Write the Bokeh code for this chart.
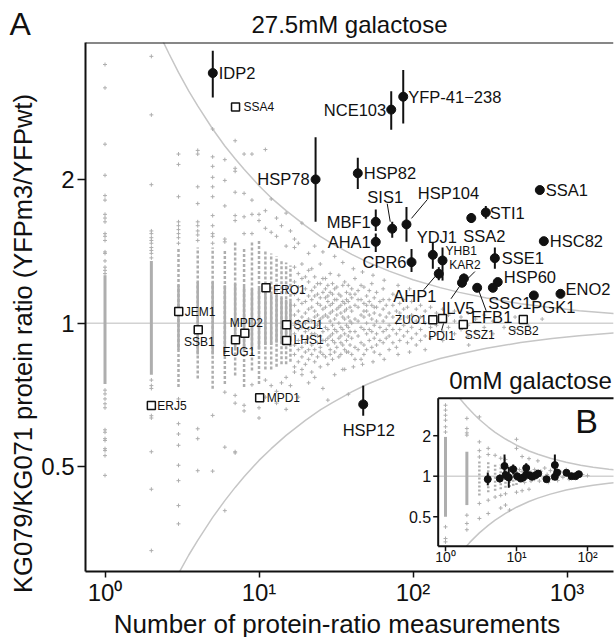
import math
from bokeh.plotting import figure
from bokeh.models import (Range1d, LogScale, FixedTicker, CustomJSTickFormatter,
                          Span, ColumnDataSource)
from bokeh.core.properties import value
from bokeh.embed import file_html
from bokeh.resources import INLINE

# ======================= DATA =======================
x_ticks = [1, 10, 100, 1000]
x_tick_labels = ["10⁰", "10¹", "10²", "10³"]
y_ticks = [0.5, 1, 2]
y_tick_labels = ["0.5", "1", "2"]
inset_x_ticks = [1, 10, 100]
inset_x_tick_labels = ["10⁰", "10¹", "10²"]
inset_y_ticks = [0.5, 1, 2]
inset_y_tick_labels = ["0.5", "1", "2"]
x_title = "Number of protein-ratio measurements"
y_title = "KG079/KG071 protein ratio (YFPm3/YFPwt)"

# funnel curves, main panel
funnel_n = [2.3, 2.6, 3, 3.5, 4, 5, 6, 7, 8, 10, 12, 15, 20, 25, 30, 40, 50, 70, 100,
            150, 200, 300, 500, 800, 1200, 2000, 2100]
funnel_hi = [3.98, 3.67, 3.35, 3.06, 2.85, 2.55, 2.35, 2.21, 2.10, 1.94, 1.83, 1.72, 1.60,
             1.52, 1.466, 1.393, 1.345, 1.285, 1.233, 1.187, 1.160, 1.129, 1.098, 1.077,
             1.062, 1.048, 1.047]
funnel_lo = [0.251, 0.272, 0.299, 0.327, 0.351, 0.392, 0.425, 0.453, 0.477, 0.516, 0.546,
             0.582, 0.626, 0.658, 0.682, 0.718, 0.744, 0.778, 0.811, 0.843, 0.862, 0.886,
             0.911, 0.929, 0.941, 0.954, 0.955]

# highlighted proteins (filled circles, error bars)
hl_names = ["IDP2", "HSP78", "NCE103", "YFP-41−238", "HSP82", "MBF1", "AHA1", "SIS1",
            "HSP104", "CPR6", "YDJ1", "YHB1", "AHP1", "KAR2", "ILV5", "EFB1", "SSA2",
            "STI1", "SSA1", "HSC82", "SSE1", "HSP60", "SSC1", "PGK1", "ENO2", "HSP12"]
hl_n = [5.01, 23.3, 72.2, 86.4, 43.8, 57.3, 57.3, 73.3, 90.7, 97.8, 134.5, 155.5, 147,
        214, 208, 261, 239, 297, 666, 707, 340, 355, 330, 609, 907, 47.5]
hl_ratio = [3.34, 2.00, 2.80, 2.98, 2.06, 1.63, 1.48, 1.577, 1.61, 1.342, 1.39, 1.353,
            1.269, 1.24, 1.215, 1.186, 1.66, 1.705, 1.90, 1.485, 1.368, 1.219, 1.186,
            1.143, 1.152, 0.676]
hl_lo = [2.97, 1.63, 2.54, 2.62, 1.91, 1.56, 1.41, 1.51, 1.48, 1.28, 1.30, 1.228, 1.23,
         1.20, 1.19, 1.17, 1.62, 1.655, 1.88, 1.47, 1.30, 1.20, 1.17, 1.13, 1.14, 0.64]
hl_hi = [3.72, 2.45, 3.06, 3.39, 2.22, 1.73, 1.54, 1.63, 1.75, 1.43, 1.477, 1.44, 1.31,
         1.27, 1.24, 1.20, 1.70, 1.76, 1.92, 1.50, 1.44, 1.24, 1.20, 1.155, 1.165, 0.74]

# other named proteins (open squares)
sq_names = ["SSA4", "ERO1", "JEM1", "SSB1", "MPD2", "EUG1", "SCJ1", "LHS1", "MPD1", "ERJ5",
            "ZUO1", "PDI1", "SSZ1", "SSB2"]
sq_n = [7.04, 11.1, 3.01, 4.03, 8.09, 7.04, 15.1, 15.1, 10.1, 2.0, 134.5, 155.5, 212, 520]
sq_ratio = [2.835, 1.186, 1.058, 0.969, 0.953, 0.923, 0.992, 0.920, 0.698, 0.672, 1.017,
            1.023, 0.994, 1.018]

# all other proteins (grey crosses): dense part of the low-count columns ...
col_n = [1, 2, 3, 4, 5, 6, 7, 8, 9, 10, 11, 12, 13, 14, 15, 16]
col_lo = [0.746, 0.78, 0.735, 0.766, 0.729, 0.746, 0.777, 0.735, 0.796, 0.746, 0.80, 0.80,
          0.81, 0.82, 0.82, 0.83]
col_hi = [1.26, 1.35, 1.44, 1.44, 1.44, 1.42, 1.49, 1.44, 1.49, 1.49, 1.42, 1.40, 1.38,
          1.36, 1.34, 1.32]
col_core_lo = [0.746, 0.78, 0.88, 0.86, 0.86, 0.87, 0.88, 0.87, 0.89, 0.88, 0.90, 0.90,
               0.91, 0.91, 0.92, 0.92]
col_core_hi = [1.26, 1.35, 1.20, 1.22, 1.22, 1.20, 1.21, 1.19, 1.18, 1.18, 1.16, 1.15,
               1.14, 1.13, 1.12, 1.11]
# ... single points of the columns ...
sparse = {
    1: [3.48, 3.11, 2.37, 2.04, 1.85, 1.81, 1.69, 1.66, 1.63, 1.54, 1.52, 1.49, 1.41, 1.40,
        1.35, 1.31, 1.29, 1.27, 0.724, 0.711, 0.694, 0.678, 0.665, 0.598, 0.591, 0.573,
        0.568, 0.546, 0.541, 0.528, 0.48],
    2: [3.62, 2.73, 1.95, 1.56, 1.54, 1.51, 1.49, 1.47, 1.44, 1.42, 1.40, 1.37, 0.76, 0.74,
        0.73, 0.64, 0.633, 0.538, 0.449, 0.334],
    3: [2.26, 2.15, 1.84, 1.63, 1.60, 1.57, 1.54, 1.51, 1.47, 0.694, 0.616, 0.586, 0.555,
        0.504, 0.468, 0.415, 0.38],
    4: [2.30, 2.26, 1.93, 1.78, 1.63, 1.60, 1.56, 1.53, 1.49, 0.601, 0.573, 0.491],
    5: [2.55, 2.23, 2.13, 2.02, 1.93, 1.84, 1.68, 1.60, 1.54, 1.52, 1.47, 0.641, 0.49],
    6: [2.20, 1.99, 1.76, 1.50, 1.48, 0.717, 0.55, 0.405],
    7: [2.41, 2.11, 2.08, 1.88, 1.68, 1.64, 0.706, 0.68, 0.538, 0.535],
    8: [2.26, 1.87, 1.67, 1.54, 0.673, 0.655],
    9: [2.26, 1.81, 1.69, 1.54, 0.743],
    10: [1.69, 1.64, 0.694, 0.665, 0.633],
    11: [2.31, 1.72, 1.58, 0.76, 0.70],
    12: [1.82, 1.55, 0.74],
    13: [1.66, 1.52, 0.72, 0.68],
    14: [1.60, 0.75],
    15: [1.70, 1.45, 0.77, 0.66],
    16: [1.56, 0.74],
    17: [1.50, 1.44, 0.79],
    18: [1.47, 0.70],
    19: [1.62, 0.78],
    21: [1.40, 0.75],
    23: [1.45, 0.77],
    26: [1.41, 0.73],
    28: [0.69],
    31: [1.38, 0.78],
    35: [1.34, 0.80],
    38: [0.71],
    41: [1.30, 0.81],
    47: [1.28, 0.82],
    55: [1.26, 0.83],
    65: [1.23, 0.84],
    80: [1.20, 0.86],
    95: [1.18, 0.87],
    120: [0.88],
    230: [0.90],
}
# ... and the cloud of proteins with many measurements
cloud = {
    17: [1.31, 1.22, 1.15, 1.09, 1.04, 0.99, 0.95, 0.90, 0.86, 0.81],
    18: [1.27, 1.19, 1.12, 1.06, 1.01, 0.97, 0.92, 0.88, 0.83],
    19: [1.33, 1.24, 1.16, 1.10, 1.03, 0.98, 0.94, 0.89, 0.85, 0.80],
    20: [1.25, 1.18, 1.11, 1.05, 1.00, 0.96, 0.91, 0.87, 0.82],
    21: [1.29, 1.22, 1.14, 1.07, 1.02, 0.97, 0.93, 0.88, 0.84],
    22: [1.30, 1.17, 1.12, 1.08, 1.01, 0.95, 0.90, 0.86, 0.79],
    23: [1.25, 1.19, 1.14, 1.06, 1.03, 0.98, 0.95, 0.88, 0.83],
    24: [1.21, 1.15, 1.10, 1.04, 0.99, 0.94, 0.91, 0.85],
    25: [1.33, 1.21, 1.13, 1.09, 1.02, 1.00, 0.94, 0.89, 0.87, 0.81],
    26: [1.24, 1.16, 1.07, 1.03, 0.96, 0.92, 0.86],
    27: [1.24, 1.18, 1.13, 1.08, 1.04, 0.98, 0.92, 0.85],
    28: [1.20, 1.14, 1.11, 1.03, 0.97, 0.93, 0.90, 0.82],
    29: [1.27, 1.16, 1.09, 1.05, 1.01, 0.94, 0.88, 0.86],
    30: [1.21, 1.15, 1.10, 1.06, 0.99, 0.95, 0.92, 0.84],
    31: [1.18, 1.12, 1.02, 0.97, 0.91, 0.87],
    32: [1.19, 1.12, 1.07, 1.04, 0.96, 0.89],
    33: [1.26, 1.15, 1.08, 1.00, 0.93, 0.85],
    34: [1.14, 1.09, 1.05, 0.98, 0.94, 0.91, 0.86],
    35: [1.20, 1.11, 1.03, 0.97, 0.90],
    36: [1.22, 1.10, 1.06, 1.02, 0.95, 0.88, 0.80],
    37: [1.16, 1.12, 1.07, 0.99, 0.92, 0.87],
    38: [1.20, 1.11, 1.03, 0.98, 0.94, 0.87],
    39: [1.15, 1.08, 1.01, 0.96, 0.90],
    40: [1.18, 1.13, 1.06, 1.00, 0.93, 0.86],
    42: [1.24, 1.15, 1.09, 1.02, 0.96, 0.89, 0.84],
    44: [1.17, 1.12, 1.08, 1.01, 0.94, 0.88],
    46: [1.20, 1.12, 1.04, 0.98, 0.91, 0.84],
    48: [1.19, 1.10, 1.06, 1.03, 0.97, 0.90, 0.86],
    50: [1.14, 1.09, 1.06, 1.00, 0.95, 0.88],
    52: [1.17, 1.11, 1.04, 0.97, 0.92],
    54: [1.21, 1.09, 1.02, 0.96, 0.89],
    56: [1.13, 1.08, 1.05, 0.99, 0.93, 0.87],
    58: [1.16, 1.08, 1.01, 0.95, 0.90],
    61: [1.11, 1.04, 0.98, 0.92, 0.86],
    64: [1.18, 1.12, 1.07, 1.01, 0.96, 0.91],
    67: [1.09, 1.03, 0.97, 0.93],
    70: [1.12, 1.05, 0.99, 0.94, 0.88],
    74: [1.15, 1.09, 1.03, 0.97, 0.91],
    78: [1.14, 1.06, 1.00, 0.95, 0.89],
    82: [1.10, 1.05, 1.02, 0.97, 0.92],
    87: [1.12, 1.07, 0.99, 0.94],
    92: [1.08, 1.03, 0.96, 0.91],
    98: [1.11, 1.04, 0.98, 0.93],
    105: [1.07, 1.01, 0.95, 0.90],
    112: [1.09, 1.03, 0.97, 0.92],
    120: [1.06, 1.00, 0.94],
    130: [1.08, 1.02, 0.98, 0.93],
    142: [1.05, 0.99, 0.95],
    156: [1.07, 1.01, 0.96, 0.92],
    170: [1.04, 0.98],
    186: [1.06, 1.01, 0.95],
    205: [1.03, 0.97],
    228: [1.05, 0.99, 0.94],
    255: [1.02, 0.96],
    290: [1.04, 0.98],
    330: [1.01, 0.95],
    390: [0.98],
    460: [1.03, 0.97],
    560: [0.99],
    690: [1.02],
}

# ---- inset B: 0mM galactose ----
in_up_n = [1.57, 1.8, 2, 2.5, 3, 4, 5, 7, 10, 15, 20, 30, 50, 80, 120, 200, 300]
in_up_r = [3.82, 3.50, 3.28, 2.90, 2.64, 2.32, 2.12, 1.89, 1.70, 1.54, 1.456, 1.359, 1.268,
           1.207, 1.166, 1.126, 1.102]
in_lo_n = [1.95, 2.2, 2.5, 3, 4, 5, 7, 10, 15, 20, 30, 50, 80, 120, 200, 300]
in_lo_r = [0.30, 0.322, 0.345, 0.379, 0.431, 0.472, 0.529, 0.588, 0.649, 0.687, 0.736,
           0.789, 0.829, 0.858, 0.888, 0.907]
in_col_n = [1, 2, 3, 4, 5, 6, 7, 8, 9, 10]
in_col_lo = [0.50, 0.61, 0.72, 0.76, 0.78, 0.80, 0.82, 0.83, 0.85, 0.86]
in_col_hi = [1.96, 1.52, 1.32, 1.28, 1.25, 1.22, 1.20, 1.18, 1.16, 1.15]
in_sparse = {
    1: [3.37, 3.10, 2.84, 2.61, 2.33, 2.13, 0.42, 0.344, 0.325],
    2: [2.69, 2.26, 2.10, 2.02, 0.513, 0.445, 0.40],
    3: [2.76, 1.80, 1.55, 1.39, 0.627, 0.485],
    4: [1.61, 1.45, 0.663, 0.528],
    5: [1.43, 0.70],
    6: [1.36, 0.72, 0.58],
    7: [1.33, 0.74, 0.61],
    8: [0.56],
    10: [1.88, 1.61, 0.76],
    11: [1.12, 0.93],
    12: [1.40, 1.08, 0.95, 0.78],
    13: [1.05, 0.90],
    14: [1.10, 0.97],
    15: [1.35, 0.80],
    16: [1.07, 0.92],
    17: [1.02],
    18: [1.12, 0.95],
    20: [1.30, 1.05],
    21: [0.92],
    22: [1.09],
    24: [0.97],
    25: [1.15],
    27: [1.03],
    28: [0.90],
    30: [1.10],
    32: [0.96],
    35: [1.06],
    38: [0.93],
    42: [1.08],
    45: [0.98],
    50: [1.12],
    55: [0.95],
    60: [1.04],
    70: [0.97],
    85: [1.03],
    100: [1.01],
}
in_hl_n = [3.94, 5.82, 6.78, 7.0, 7.79, 8.99, 10.2, 11.5, 12.4, 13.7, 13.7, 15.2, 16.6,
           18.5, 20.2, 26.5, 34.7, 34.7, 37.4, 50.6, 59.5, 67.7, 75.4]
in_hl_ratio = [0.95, 0.96, 1.19, 1.02, 0.978, 1.127, 1.0, 0.96, 0.978, 1.15, 1.03, 1.017,
               0.99, 1.017, 1.047, 0.95, 1.21, 0.99, 1.065, 1.06, 1.0, 1.0, 1.035]
in_hl_lo = [0.855, 0.90, 0.97, 0.94, 0.82, 1.03, 0.97, 0.93, 0.93, 1.06, 0.98, 0.97, 0.95,
            0.98, 1.01, 0.92, 1.03, 0.95, 1.03, 1.04, 0.98, 0.98, 1.02]
in_hl_hi = [1.065, 1.03, 1.45, 1.08, 1.17, 1.22, 1.03, 0.99, 1.03, 1.25, 1.08, 1.06, 1.03,
            1.05, 1.08, 0.98, 1.45, 1.03, 1.10, 1.08, 1.02, 1.02, 1.05]

# ======================= LAYOUT / STYLE =======================
FONT = "Liberation Sans"
GRAY = "#aeaeae"
CURVE = "#c6c6c6"
INK = "#111111"
X_START, X_END = 0.747, 2004
Y_START, Y_END = 0.302, 3.87
FIG_W, FIG_H = 614, 637
B_LEFT, B_RIGHT, B_TOP, B_BOTTOM = 85, 1, 42, 66
FRAME_W = FIG_W - B_LEFT - B_RIGHT
FRAME_H = FIG_H - B_TOP - B_BOTTOM
PX_DEC_X = FRAME_W / (math.log10(X_END) - math.log10(X_START))
PX_DEC_Y = FRAME_H / (math.log10(Y_END) - math.log10(Y_START))

# label offsets (px): highlighted proteins
hl_dx = [6, -6, -5, 5, 6, -5, -5, -7, 42, -5, 4, 3, -24, 1, -4, 14.5, 13, 4, 6, 6,
         7, 6, 17, 19.5, 5, 5.6]
hl_dy = [0, 0, 0, 0, 0, 0, 0, -32, -31, 0, -18, -9, 22, -14, 25, 29, 18, 0, 0, 0,
         0, -5, 15, 12, -5, 26]
hl_align = ["left", "right", "right", "left", "left", "right", "right", "center", "center",
            "right", "center", "left", "center", "center", "center", "center", "center",
            "left", "left", "left", "left", "left", "center", "center", "left", "center"]
hl_size = ["12px" if nm in ("YHB1", "KAR2") else "16.5px" for nm in hl_names]
sq_dx = [8, 7, 6, 1, 1.5, 3.3, 7, 7, 7, 6, -6, -1, 16.5, 0]
sq_dy = [0, 2, 1, 12.4, -10, 12.4, 0, 0, 0, 0, 0, 18, 11, 11.7]
sq_align = ["left", "left", "left", "center", "center", "center", "left", "left", "left",
            "left", "right", "center", "center", "center"]
# leader lines: (dx0, dy0, dx1, dy1) px relative to the point
hl_leaders = {"SIS1": (-5, -25, -2, -7), "HSP104": (21, -25, 5, -6),
              "KAR2": (11, -7, 4, 0), "ILV5": (-11, 16, -2, 3),
              "AHP1": (-15, 16, -3, 2), "EFB1": (9, 23, 2, 4)}
sq_leaders = {"PDI1": (1, 5, -1, 12)}

# inset geometry (px inside the main frame)
IN_X1_PX, IN_DEC_X = 445 - B_LEFT, 71       # where n=1 sits, px per decade
IN_Y1_PX, IN_DEC_Y = 475.7 - B_TOP, 134.5   # where ratio=1 sits, px per decade
IN_LEFT, IN_RIGHT, IN_BOTTOM, IN_TOP = 0.789, 1e4, 0.302, 3.80

# ======================= FIGURE =======================
p = figure(width=FIG_W, height=FIG_H, x_axis_type="log", y_axis_type="log",
           x_range=Range1d(X_START, X_END), y_range=Range1d(Y_START, Y_END),
           output_backend="svg", toolbar_location=None,
           min_border_left=B_LEFT, min_border_right=B_RIGHT,
           min_border_top=B_TOP, min_border_bottom=B_BOTTOM,
           title="27.5mM galactose")
p.outline_line_color = None
p.grid.visible = False
p.background_fill_color = "white"
p.border_fill_color = "white"
p.title.align = "center"
p.title.text_font = FONT
p.title.text_font_size = "24px"
p.title.text_font_style = "normal"
p.title.text_color = INK
p.title.standoff = 9

fmt_code = """
const i = vals.findIndex(v => Math.abs(v - tick) / v < 1e-6);
return i >= 0 ? labs[i] : "";
"""
for ax, ticks, labs, tout, lstand in ((p.xaxis[0], x_ticks, x_tick_labels, 6, 1),
                                      (p.yaxis[0], y_ticks, y_tick_labels, 8, 3)):
    ax.ticker = FixedTicker(ticks=ticks)
    ax.formatter = CustomJSTickFormatter(args=dict(vals=ticks, labs=labs), code=fmt_code)
    ax.axis_line_width = 2
    ax.axis_line_color = INK
    ax.major_tick_line_width = 1.5
    ax.major_tick_line_color = INK
    ax.major_tick_in = 0
    ax.major_tick_out = tout
    ax.minor_tick_line_color = None
    ax.major_label_text_font = FONT
    ax.major_label_text_font_size = "24px"
    ax.major_label_text_color = INK
    ax.major_label_standoff = lstand

# top frame line and reference line at ratio 1
p.add_layout(Span(location=Y_END, dimension="width", line_color=INK, line_width=2))
p.add_layout(Span(location=1, dimension="width", line_color="#d2d2d2", line_width=1.5,
                  level="underlay"))

# funnel
p.line(funnel_n, funnel_hi, line_color=CURVE, line_width=1.5)
p.line(funnel_n, funnel_lo, line_color=CURVE, line_width=1.5)

# grey population
dashed = [i for i, n in enumerate(col_n) if n >= 3]
p.segment(x0=[col_n[i] for i in dashed], x1=[col_n[i] for i in dashed],
          y0=[col_lo[i] for i in dashed], y1=[col_hi[i] for i in dashed],
          line_color=GRAY, line_width=2.5, line_dash="3 2")
p.segment(x0=col_n, x1=col_n, y0=col_core_lo, y1=col_core_hi,
          line_color=GRAY, line_width=[3 if n < 3 else 2.5 for n in col_n])
sp_n = [n for n, rs in sparse.items() for _ in rs]
sp_r = [r for rs in sparse.values() for r in rs]
cl_n = [n for n, rs in cloud.items() for _ in rs]
cl_r = [r for rs in cloud.values() for r in rs]
p.scatter(sp_n + cl_n, sp_r + cl_r, marker="cross", size=4, line_color=GRAY, line_width=1)

# named proteins
p.scatter(sq_n, sq_ratio, marker="square", size=8, fill_color="white",
          line_color=INK, line_width=1.5)
p.segment(x0=hl_n, x1=hl_n, y0=hl_lo, y1=hl_hi, line_color=INK, line_width=2)
p.scatter(hl_n, hl_ratio, marker="circle", size=9, fill_color=INK, line_color=INK)


def shift(n, r, dx, dy):
    return n * 10 ** (dx / PX_DEC_X), r * 10 ** (-dy / PX_DEC_Y)


def leaders(names, ns, rs, table):
    x0, y0, x1, y1 = [], [], [], []
    for nm, (a, b, c, d) in table.items():
        i = names.index(nm)
        u, v = shift(ns[i], rs[i], a, b)
        w, z = shift(ns[i], rs[i], c, d)
        x0.append(u); y0.append(v); x1.append(w); y1.append(z)
    p.segment(x0=x0, y0=y0, x1=x1, y1=y1, line_color=INK, line_width=1)


leaders(hl_names, hl_n, hl_ratio, hl_leaders)
leaders(sq_names, sq_n, sq_ratio, sq_leaders)


def draw_labels(names, ns, rs, dxs, dys, aligns, sizes, **kw):
    groups = {}
    for i in range(len(names)):
        groups.setdefault((aligns[i], sizes[i]), []).append(i)
    for (al, sz), idx in groups.items():
        src = ColumnDataSource(dict(x=[ns[i] for i in idx], y=[rs[i] for i in idx],
                                    t=[names[i] for i in idx], dx=[dxs[i] for i in idx],
                                    dy=[dys[i] for i in idx]))
        p.text(x="x", y="y", text="t", x_offset="dx", y_offset="dy", source=src,
               text_align=al, text_baseline="middle", text_font=value(FONT),
               text_font_size=sz, text_color=INK, **kw)


draw_labels(hl_names, hl_n, hl_ratio, hl_dx, hl_dy, hl_align, hl_size)
draw_labels(sq_names, sq_n, sq_ratio, sq_dx, sq_dy, sq_align, ["12px"] * len(sq_names))

# texts outside the frame (overlay level is not clipped to the frame); offsets are
# measured from the frame corners to the centre of each text
OUT = dict(text_font=value(FONT), text_color=INK, level="overlay",
           text_baseline="middle")
p.text(x=[X_START], y=[Y_END], text=["A"], x_offset=-(B_LEFT - 9), y_offset=-18.5,
       text_align="left", text_font_size="32px", **OUT)
p.text(x=[X_START], y=[Y_START], text=[x_title], x_offset=336.5 - B_LEFT, y_offset=52,
       text_align="center", text_font_size="26px", **OUT)
p.text(x=[X_START], y=[Y_END], text=[y_title], x_offset=22 - B_LEFT, y_offset=343 - B_TOP,
       angle=math.pi / 2, text_align="center", text_font_size="25.5px", **OUT)

# ======================= INSET B =======================
p.extra_x_ranges = {"inset": Range1d(10 ** (-IN_X1_PX / IN_DEC_X),
                                     10 ** ((FRAME_W - IN_X1_PX) / IN_DEC_X))}
p.extra_y_ranges = {"inset": Range1d(10 ** (-(FRAME_H - IN_Y1_PX) / IN_DEC_Y),
                                     10 ** (IN_Y1_PX / IN_DEC_Y))}
p.extra_x_scales = {"inset": LogScale()}
p.extra_y_scales = {"inset": LogScale()}
R = dict(x_range_name="inset", y_range_name="inset")

p.quad(left=[IN_LEFT], right=[IN_RIGHT], bottom=[IN_BOTTOM], top=[IN_TOP],
       fill_color="white", line_color=None, **R)
p.segment(x0=[IN_LEFT], x1=[IN_RIGHT], y0=[1], y1=[1], line_color="#d2d2d2",
          line_width=1.5, **R)
p.line(in_up_n, in_up_r, line_color=CURVE, line_width=1.5, **R)
p.line(in_lo_n, in_lo_r, line_color=CURVE, line_width=1.5, **R)
in_dashed = [i for i, n in enumerate(in_col_n) if n >= 3]
p.segment(x0=[in_col_n[i] for i in in_dashed], x1=[in_col_n[i] for i in in_dashed],
          y0=[in_col_lo[i] for i in in_dashed], y1=[in_col_hi[i] for i in in_dashed],
          line_color=GRAY, line_width=2.5, line_dash="2 2", **R)
in_solid = [i for i, n in enumerate(in_col_n) if n < 3]
p.segment(x0=[in_col_n[i] for i in in_solid], x1=[in_col_n[i] for i in in_solid],
          y0=[in_col_lo[i] for i in in_solid], y1=[in_col_hi[i] for i in in_solid],
          line_color=GRAY, line_width=3, **R)
isp_n = [n for n, rs in in_sparse.items() for _ in rs]
isp_r = [r for rs in in_sparse.values() for r in rs]
p.scatter(isp_n, isp_r, marker="cross", size=4, line_color=GRAY, line_width=1, **R)
p.segment(x0=in_hl_n, x1=in_hl_n, y0=in_hl_lo, y1=in_hl_hi, line_color=INK,
          line_width=2, **R)
p.scatter(in_hl_n, in_hl_ratio, marker="circle", size=7, fill_color=INK,
          line_color=INK, **R)

# inset frame, ticks and texts
p.segment(x0=[IN_LEFT, IN_LEFT, IN_LEFT], x1=[IN_LEFT, IN_RIGHT, IN_RIGHT],
          y0=[IN_BOTTOM, IN_BOTTOM, IN_TOP], y1=[IN_TOP, IN_BOTTOM, IN_TOP],
          line_color=INK, line_width=2, **R)
tick_dx = 10 ** (-5 / IN_DEC_X)
tick_dy = 10 ** (-5 / IN_DEC_Y)
p.segment(x0=[IN_LEFT] * len(inset_y_ticks), x1=[IN_LEFT * tick_dx] * len(inset_y_ticks),
          y0=inset_y_ticks, y1=inset_y_ticks, line_color=INK, line_width=1.5, **R)
p.segment(x0=inset_x_ticks, x1=inset_x_ticks, y0=[IN_BOTTOM] * len(inset_x_ticks),
          y1=[IN_BOTTOM * tick_dy] * len(inset_x_ticks), line_color=INK,
          line_width=1.5, **R)
p.text(x=[IN_LEFT] * len(inset_y_ticks), y=inset_y_ticks, text=inset_y_tick_labels,
       x_offset=-7, text_align="right", text_baseline="middle", text_font=value(FONT),
       text_font_size="16px", text_color=INK, **R)
p.text(x=inset_x_ticks, y=[IN_BOTTOM] * len(inset_x_ticks), text=inset_x_tick_labels,
       y_offset=11, text_align="center", text_baseline="middle", text_font=value(FONT),
       text_font_size="14px", text_color=INK, **R)
p.text(x=[IN_LEFT], y=[IN_TOP], text=["0mM galactose"], x_offset=11, y_offset=-17.5,
       text_align="left", text_baseline="middle", text_font=value(FONT),
       text_font_size="24px", text_color=INK, **R)
p.text(x=[IN_LEFT], y=[IN_TOP], text=["B"], x_offset=137, y_offset=23,
       text_align="left", text_baseline="middle", text_font=value(FONT),
       text_font_size="34px", text_color=INK, **R)

open("out.html", "w").write(file_html(p, INLINE))
